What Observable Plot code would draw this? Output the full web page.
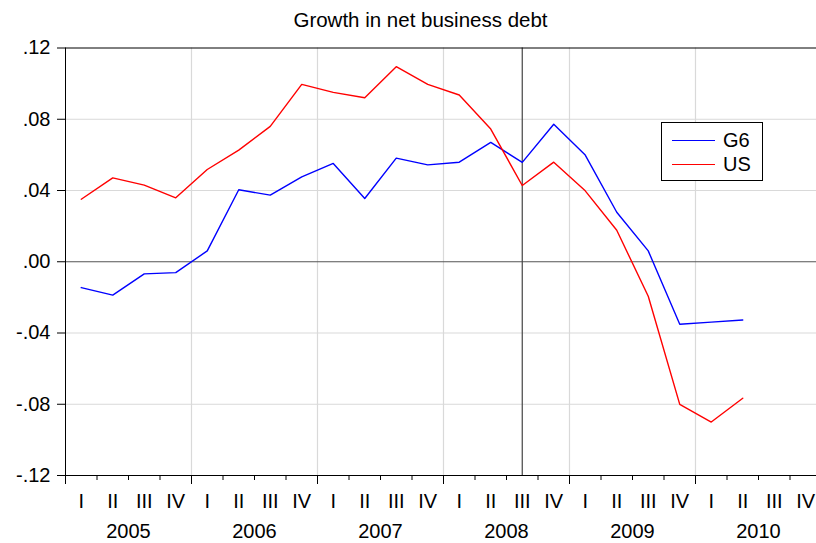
<!DOCTYPE html>
<html>
<head>
<meta charset="utf-8">
<script src="https://cdn.jsdelivr.net/npm/d3@7"></script>
<script src="https://cdn.jsdelivr.net/npm/@observablehq/plot@0.6"></script>
<style>
  body { margin: 0; background: #fff; font-family: "Liberation Sans", Arial, sans-serif; }
  #wrap { position: relative; width: 816px; height: 543px; overflow: hidden; background: #fff; }
  #title { position: relative; top: 5px; height: 30px; line-height: 30px; font-size: 20.5px; text-align: center; padding-left: 25px; width: 791px; color: #000; z-index: 2; }
  #legend { position: absolute; left: 661px; top: 122px; width: 100px; height: 57px; border: 1px solid #000; background: #fff; }
  .sw { position: absolute; left: 10px; width: 43px; height: 0; border-top: 1.5px solid; }
  .lab { position: absolute; left: 61px; font-size: 20px; line-height: 24px; color: #000; }
  svg { display: block; overflow: visible; }
</style>
</head>
<body>
<div id="wrap">
  <div id="title">Growth in net business debt</div>
  <div id="chart"></div>
  <div id="legend"></div>
</div>
<script>
// ---- data ----
const years = [2005, 2006, 2007, 2008, 2009, 2010];
const quarterLabels = ["I", "II", "III", "IV"];
const seriesNames = ["G6", "US"];
const g6Values = [-0.0145, -0.0187, -0.0068, -0.0061, 0.0061, 0.0404, 0.0374, 0.0477, 0.0552, 0.0355, 0.0582,
                  0.0544, 0.0559, 0.0670, 0.0558, 0.0772, 0.0599, 0.0278, 0.0061, -0.0351, -0.0339, -0.0327];
const usValues = [0.0351, 0.0471, 0.0430, 0.0359, 0.0518, 0.0627, 0.0760, 0.0996, 0.0951, 0.0921, 0.1095,
                  0.0996, 0.0936, 0.0745, 0.0428, 0.0559, 0.0398, 0.0177, -0.0194, -0.0801, -0.0900, -0.0766];
const yTicks = [-0.12, -0.08, -0.04, 0, 0.04, 0.08, 0.12];
const markerYear = 2008, markerQuarter = 3;

// ---- build ----
const colors = {G6: "#0000ff", US: "#ff0000"};
const nQ = years.length * 4;
const rows = [];
[g6Values, usValues].forEach((vals, s) => {
  vals.forEach((v, i) => rows.push({series: seriesNames[s], t: i + 0.5, value: v}));
});
const boundaries = d3.range(0, nQ + 1);
const yearBounds = boundaries.filter(b => b % 4 === 0);
const minorBounds = boundaries.filter(b => b % 4 !== 0);
const quarterCenters = d3.range(0, nQ).map(i => i + 0.5);
const yearCenters = years.map((y, k) => k * 4 + 2);
const markerT = (markerYear - years[0]) * 4 + (markerQuarter - 1) + 0.5;
const fmtY = d => d === 0 ? ".00" : (d < 0 ? "-" : "") + Math.abs(d).toFixed(2).replace(/^0/, "");

const chart = Plot.plot({
  width: 816,
  height: 513,
  marginLeft: 65,
  marginRight: 0,
  marginTop: 17.5,
  marginBottom: 68,
  style: {fontFamily: "'Liberation Sans', Arial, sans-serif", fontSize: "20px", color: "#000", background: "#fff"},
  x: {domain: [0, nQ], range: [65, 65 + 31.5 * nQ]},
  y: {domain: [-0.12, 0.12]},
  marks: [
    Plot.ruleY(yTicks.filter(d => Math.abs(d) > 1e-9 && Math.abs(d) < 0.12), {stroke: "#d9d9d9", strokeWidth: 1.2}),
    Plot.ruleX(yearBounds.filter(b => b > 0 && b < nQ), {stroke: "#d9d9d9", strokeWidth: 1.2}),
    Plot.ruleY([0], {stroke: "#555", strokeWidth: 1.2}),
    Plot.ruleX([markerT], {stroke: "#444", strokeWidth: 1.2}),
    Plot.line(rows, {x: "t", y: "value", z: "series", stroke: d => colors[d.series], strokeWidth: 1.4}),
    Plot.frame({anchor: "left", stroke: "#000"}),
    Plot.frame({anchor: "top", stroke: "#000"}),
    Plot.frame({anchor: "bottom", stroke: "#000"}),
    Plot.axisY({ticks: yTicks, tickFormat: fmtY, tickSize: 8, tickPadding: 7, label: null, fontSize: 20}),
    Plot.axisX({ticks: minorBounds, tickSize: 5, tickFormat: () => "", label: null}),
    Plot.axisX({ticks: yearBounds, tickSize: 9, tickFormat: () => "", label: null}),
    Plot.axisX({ticks: quarterCenters, tickSize: 0, tickPadding: 18, tickFormat: d => quarterLabels[Math.floor(d) % 4], label: null, fontSize: 20}),
    Plot.axisX({ticks: yearCenters, tickSize: 0, tickPadding: 48, tickFormat: d => String(years[(d - 2) / 4]), label: null, fontSize: 20})
  ]
});
document.getElementById("chart").appendChild(chart);

// legend
const legend = document.getElementById("legend");
seriesNames.forEach((name, i) => {
  const sw = document.createElement("div");
  sw.className = "sw";
  sw.style.top = (17 + 24 * i) + "px";
  sw.style.borderColor = colors[name];
  legend.appendChild(sw);
  const lab = document.createElement("div");
  lab.className = "lab";
  lab.style.top = (5 + 23.5 * i) + "px";
  lab.textContent = name;
  legend.appendChild(lab);
});
</script>
</body>
</html>
